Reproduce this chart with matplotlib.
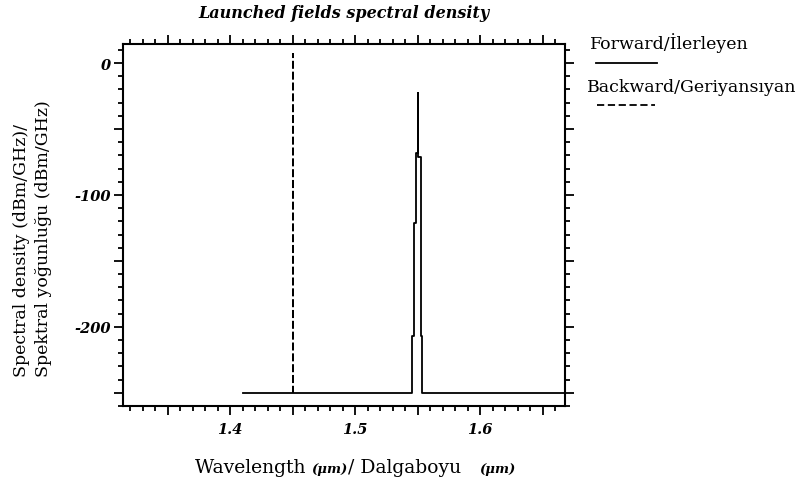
import matplotlib
matplotlib.use("Agg")
import matplotlib.pyplot as plt
from matplotlib.ticker import MultipleLocator, FuncFormatter
from matplotlib.offsetbox import TextArea, HPacker, AnchoredOffsetbox
from matplotlib.lines import Line2D

# forward spectrum (step trace), wavelength in um, density in dBm/GHz
fwd_wl = [1.41, 1.5458, 1.5472, 1.5488, 1.5506, 1.5507, 1.5526, 1.5538, 1.70]
fwd_db = [-250, -207, -121, -68, -23, -71, -207, -250, -250]

# backward spectrum: narrow spike at 1.45 um
bwd_wl = [1.4500, 1.4500, 1.4502, 1.4502]
bwd_db = [-250, 7, -121, -250]

x_labels = [1.4, 1.5, 1.6]
y_labels = [0, -100, -200]

serif = "DejaVu Serif"

fig = plt.figure(figsize=(8.05, 4.81), dpi=100)
ax = fig.add_axes([123/805, 74/481, 442/805, 362/481])

ax.step(bwd_wl, bwd_db, where="post", color="black", lw=1.3, dashes=(4, 2))
ax.step(fwd_wl, fwd_db, where="post", color="black", lw=1.3)

ax.set_xlim(1.3144, 1.668)
ax.set_ylim(-260, 14.5)

ax.xaxis.set_major_locator(MultipleLocator(0.05))
ax.xaxis.set_minor_locator(MultipleLocator(0.01))
ax.yaxis.set_major_locator(MultipleLocator(50))
ax.yaxis.set_minor_locator(MultipleLocator(10))

def xfmt(v, pos):
    for t in x_labels:
        if abs(v - t) < 1e-6:
            return "%.1f" % t
    return ""

def yfmt(v, pos):
    for t in y_labels:
        if abs(v - t) < 1e-6:
            return "%d" % t
    return ""

ax.xaxis.set_major_formatter(FuncFormatter(xfmt))
ax.yaxis.set_major_formatter(FuncFormatter(yfmt))

ax.tick_params(which="both", direction="out", top=True, right=True, width=1.3)
ax.tick_params(which="major", length=6.5)
ax.tick_params(which="minor", length=3.5)
ax.tick_params(axis="x", pad=5)
ax.tick_params(axis="y", pad=2)
for lab in ax.get_xticklabels() + ax.get_yticklabels():
    lab.set_fontfamily(serif)
    lab.set_fontweight("bold")
    lab.set_fontstyle("italic")
    lab.set_fontsize(10.5)
for sp in ax.spines.values():
    sp.set_linewidth(1.5)

# title
fig.text(344/805, 1 - 14/481, "Launched fields spectral density", ha="center", va="center",
         family=serif, weight="bold", style="italic", fontsize=11.5)

# y label, two lines
fig.text(22/805, 1 - 377/481, "Spectral density (dBm/GHz)/", rotation=90, ha="center",
         va="bottom", family=serif, fontsize=12.5)
fig.text(44/805, 1 - 377/481, "Spektral yoğunluğu (dBm/GHz)", rotation=90, ha="center",
         va="bottom", family=serif, fontsize=12.5)

# x label with mixed styles
reg = dict(family=serif, size=13.5)
unit = dict(family=serif, size=9.5, weight="bold", style="italic")
parts = [TextArea("Wavelength ", textprops=reg), TextArea("(μm)", textprops=unit),
         TextArea("/ Dalgaboyu   ", textprops=reg), TextArea("(μm)", textprops=unit)]
box = HPacker(children=parts, align="baseline", pad=0, sep=0)
anch = AnchoredOffsetbox(loc="center left", child=box, frameon=False, pad=0,
                         bbox_to_anchor=(195/805, 1 - 468/481),
                         bbox_transform=fig.transFigure, borderpad=0)
fig.add_artist(anch)

# legend on the right
fig.text(590/805, 1 - 43/481, "Forward/İlerleyen", ha="left", va="center",
         family=serif, fontsize=12.5)
fig.add_artist(Line2D([596/805, 657/805], [1 - 64/481, 1 - 64/481],
                      transform=fig.transFigure, color="black", lw=1.3))
fig.text(587/805, 1 - 88/481, "Backward/Geriyansıyan", ha="left", va="center",
         family=serif, fontsize=12.5)
fig.add_artist(Line2D([597/805, 655/805], [1 - 106/481, 1 - 106/481],
                      transform=fig.transFigure, color="black", lw=1.3, dashes=(4, 2)))

fig.savefig("out.png", dpi=100)
